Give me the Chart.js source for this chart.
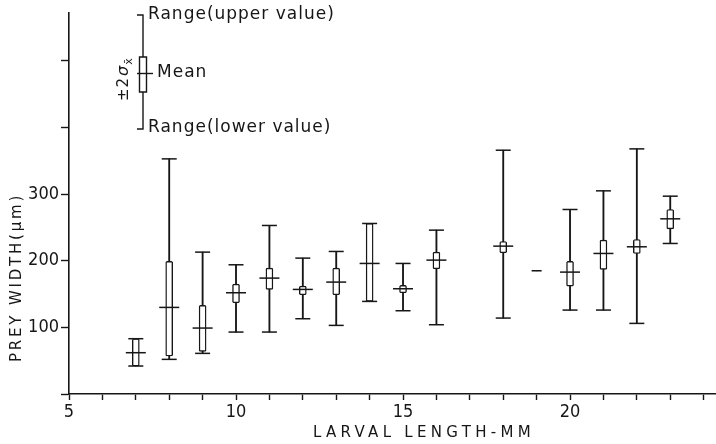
<!DOCTYPE html>
<html>
<head>
<meta charset="utf-8">
<script src="https://cdn.jsdelivr.net/npm/chart.js@4.4.1/dist/chart.umd.min.js"></script>
<style>
  html, body { margin: 0; padding: 0; background: #fff; }
  canvas { display: block; }
</style>
</head>
<body>
<canvas id="chart" width="716" height="444"></canvas>
<script>
// Larval length (mm) groups
const lengths   = [7, 8, 9, 10, 11, 12, 13, 14, 15, 16, 18, 19, 20, 21, 22, 23];
// Mean prey width (µm) for each group
const means     = [62, 130, 99, 152, 174, 157, 168, 196, 158, 201, 222, 185, 183, 211, 221, 263];
// Range of prey widths (lower / upper value)
const rangeLow  = [42, 52, 61, 93, 93, 113, 103, 139, 125, 104, 114, 185, 126, 126, 106, 226];
const rangeHigh = [83, 353, 213, 194, 253, 204, 214, 256, 196, 246, 366, 185, 277, 305, 368, 297];
// Mean ± 2 standard errors (box ends); null where only one value exists
const sdLow     = [42, 57, 64, 137, 157, 149, 149, 139, 152, 188, 212, null, 162, 187, 211, 248];
const sdHigh    = [83, 199, 133, 165, 189, 162, 189, 256, 163, 213, 229, null, 199, 231, 232, 277];

// Axis ticks
const xTickValues = [5, 6, 7, 8, 9, 10, 11, 12, 13, 14, 15, 16, 17, 18, 19, 20, 21, 22, 23, 24];
const xTickLabels = [5, 10, 15, 20];
const yTickValues = [0, 100, 200, 300, 400, 500];
const yTickLabels = [100, 200, 300];

const INK = '#161616';
const NARROW = '"Liberation Sans Narrow", "DejaVu Sans Condensed", sans-serif';
const PLAIN = '"DejaVu Sans", sans-serif';

const isSingle = i => rangeLow[i] === rangeHigh[i];

const whiskerData = lengths.map((x, i) => ({ x, y: [rangeLow[i], rangeHigh[i]] }));
const boxData = lengths
  .map((x, i) => (sdLow[i] == null ? null : { x, y: [sdLow[i], sdHigh[i]] }))
  .filter(Boolean);
const meanData = lengths.map((x, i) => ({ x, y: means[i] }));
const lowCapData = lengths.map((x, i) => ({ x, y: rangeLow[i] }));
const highCapData = lengths.map((x, i) => ({ x, y: rangeHigh[i] }));

// Titles and the explanatory key
const annotations = {
  id: 'annotations',
  afterDraw(chart) {
    const ctx = chart.ctx;
    ctx.save();
    ctx.strokeStyle = INK;
    ctx.fillStyle = INK;
    ctx.lineWidth = 1.4;

    // key: range whisker, ±2σ box and mean bar
    const kx = 143;
    ctx.beginPath();
    ctx.moveTo(137, 15); ctx.lineTo(kx, 15); ctx.lineTo(kx, 129); ctx.lineTo(137, 129);
    ctx.stroke();
    ctx.fillStyle = '#fff';
    ctx.beginPath();
    ctx.rect(139.5, 57, 7, 35);
    ctx.fill();
    ctx.stroke();
    ctx.beginPath();
    ctx.moveTo(137, 73.5); ctx.lineTo(153, 73.5);
    ctx.stroke();

    ctx.fillStyle = INK;
    ctx.font = '17px ' + PLAIN;
    ctx.textAlign = 'left';
    ctx.textBaseline = 'middle';
    ctx.letterSpacing = '1px';
    ctx.fillText('Range(upper value)', 148, 15);
    ctx.fillText('Mean', 157, 73);
    ctx.fillText('Range(lower value)', 148, 128);

    // ±2σ with subscript x̄, written upwards
    ctx.save();
    ctx.translate(128, 101);
    ctx.rotate(-Math.PI / 2);
    ctx.textBaseline = 'alphabetic';
    ctx.letterSpacing = '1px';
    ctx.font = '15px ' + PLAIN;
    ctx.fillText('±2', 0, 0);
    const w1 = ctx.measureText('±2').width;
    ctx.font = 'italic 16px ' + PLAIN;
    ctx.fillText('σ', w1 + 1, 0);
    const w2 = ctx.measureText('σ').width;
    ctx.font = '11px ' + PLAIN;
    ctx.fillText('x\u0304', w1 + w2 + 1, 4);
    ctx.restore();

    // axis titles
    ctx.font = '15px ' + PLAIN;
    ctx.textBaseline = 'middle';
    ctx.letterSpacing = '4.3px';
    ctx.fillText('LARVAL LENGTH-MM', 313, 433);

    ctx.save();
    ctx.translate(17, 362);
    ctx.rotate(-Math.PI / 2);
    ctx.letterSpacing = '2.8px';
    ctx.fillText('PREY WIDTH(µm)', 0, 0);
    ctx.restore();

    ctx.restore();
  }
};

new Chart(document.getElementById('chart'), {
  type: 'bar',
  data: {
    datasets: [
      {
        type: 'line',
        label: 'Mean',
        data: meanData,
        showLine: false,
        pointStyle: 'line',
        pointRadius: c => (isSingle(c.dataIndex) ? 5 : 10),
        pointBorderWidth: 1.5,
        pointBorderColor: INK,
        order: 1
      },
      {
        type: 'line',
        label: 'Range (lower value)',
        data: lowCapData,
        showLine: false,
        pointStyle: 'line',
        pointRadius: c => (isSingle(c.dataIndex) ? 0 : 7.5),
        pointBorderWidth: 1.5,
        pointBorderColor: INK,
        order: 2
      },
      {
        type: 'line',
        label: 'Range (upper value)',
        data: highCapData,
        showLine: false,
        pointStyle: 'line',
        pointRadius: c => (isSingle(c.dataIndex) ? 0 : 7.5),
        pointBorderWidth: 1.5,
        pointBorderColor: INK,
        order: 2
      },
      {
        label: '±2σx̄',
        data: boxData,
        grouped: false,
        barThickness: 7,
        backgroundColor: '#fff',
        borderColor: INK,
        borderWidth: 1.4,
        borderSkipped: false,
        borderRadius: 1.5,
        order: 3
      },
      {
        label: 'Range',
        data: whiskerData,
        grouped: false,
        barThickness: 1.2,
        backgroundColor: INK,
        borderWidth: 0,
        order: 4
      }
    ]
  },
  options: {
    responsive: false,
    devicePixelRatio: 1,
    animation: false,
    events: [],
    layout: { autoPadding: false, padding: { top: 13, right: 0, bottom: 0, left: 0 } },
    plugins: {
      legend: { display: false },
      tooltip: { enabled: false },
      title: { display: false }
    },
    scales: {
      x: {
        type: 'linear',
        position: 'bottom',
        min: 5,
        max: 24.37,
        offset: false,
        afterBuildTicks: s => { s.ticks = xTickValues.map(v => ({ value: v })); },
        afterFit: s => { s.height = 50; },
        ticks: {
          autoSkip: false,
          maxRotation: 0,
          padding: 2,
          color: INK,
          font: { family: NARROW, size: 18 },
          callback: v => (xTickLabels.includes(v) ? String(v) : '')
        },
        grid: {
          offset: false,
          drawOnChartArea: false,
          drawTicks: true,
          tickLength: 6,
          tickColor: INK,
          tickWidth: 1.4
        },
        border: { display: true, color: INK, width: 1.6 }
      },
      y: {
        type: 'linear',
        position: 'left',
        min: 0,
        max: 572,
        afterBuildTicks: s => { s.ticks = yTickValues.map(v => ({ value: v })); },
        afterFit: s => { s.width = 69; },
        ticks: {
          padding: 2,
          color: INK,
          font: { family: NARROW, size: 18 },
          callback: v => (yTickLabels.includes(v) ? String(v) : '')
        },
        grid: {
          drawOnChartArea: false,
          drawTicks: true,
          tickLength: 8,
          tickColor: INK,
          tickWidth: 1.4
        },
        border: { display: true, color: INK, width: 1.6 }
      }
    }
  },
  plugins: [annotations]
});
</script>
</body>
</html>
